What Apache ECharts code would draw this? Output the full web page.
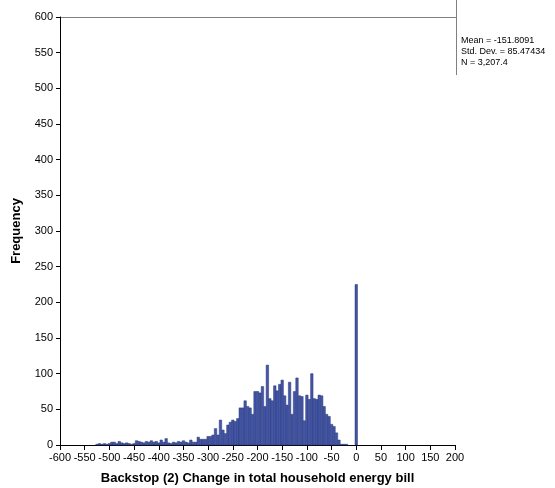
<!DOCTYPE html>
<html>
<head>
<meta charset="UTF-8">
<title>Histogram</title>
<script src="https://cdn.jsdelivr.net/npm/echarts@6/dist/echarts.min.js"></script>
<style>
  html, body { margin: 0; padding: 0; background: #fff; }
  #main { width: 555px; height: 488px; }
</style>
</head>
<body>
<div id="main"></div>
<script>
// bin centres (width 5) and frequencies
var binWidth = 5;
var binCenters = [
  -525, -520, -515, -510, -505, -500, -495, -490, -485, -480, -475, -470,
  -465, -460, -455, -450, -445, -440, -435, -430, -425, -420, -415, -410,
  -405, -400, -395, -390, -385, -380, -375, -370, -365, -360, -355, -350,
  -345, -340, -335, -330, -325, -320, -315, -310, -305, -300, -295, -290,
  -285, -280, -275, -270, -265, -260, -255, -250, -245, -240, -235, -230,
  -225, -220, -215, -210, -205, -200, -195, -190, -185, -180, -175, -170,
  -165, -160, -155, -150, -145, -140, -135, -130, -125, -120, -115, -110,
  -105, -100, -95, -90, -85, -80, -75, -70, -65, -60, -55, -50,
  -45, -40, -35, -30, -25, -20, -15, -10, -5, 0
];
var counts = [
  1, 2, 1, 2, 1, 2, 4, 4, 2, 5, 3, 2,
  3, 2, 1, 2, 6, 5, 4, 3, 5, 4, 6, 4,
  5, 3, 7, 4, 9, 3, 2, 4, 3, 5, 4, 6,
  4, 3, 7, 4, 4, 11, 8, 8, 8, 12, 12, 14,
  23, 14, 35, 21, 16, 28, 32, 35, 33, 37, 52, 52,
  62, 54, 52, 43, 75, 75, 73, 82, 54, 112, 65, 62,
  83, 76, 85, 91, 69, 56, 88, 43, 75, 94, 69, 68,
  34, 70, 64, 100, 65, 64, 70, 69, 54, 43, 40, 29,
  26, 17, 7, 1, 1, 1, 0, 0, 0, 225
];
var statLines = ['Mean = -151.8091', 'Std. Dev. = 85.47434', 'N = 3,207.4'];

var chart = echarts.init(document.getElementById('main'));
var font = '"Liberation Sans", Arial, sans-serif';

var data = [];
for (var i = 0; i < binCenters.length; i++) {
  data.push([binCenters[i], counts[i]]);
}

var option = {
  animation: false,
  backgroundColor: '#ffffff',
  grid: { left: 60, right: 100, top: 17, bottom: 43, outerBoundsMode: 'none' },
  xAxis: {
    type: 'value',
    min: -600, max: 200, interval: 50,
    name: 'Backstop (2) Change in total household energy bill',
    nameLocation: 'middle',
    nameGap: 27,
    nameTextStyle: { fontFamily: font, fontSize: 13, fontWeight: 'bold', color: '#000' },
    axisLine: { onZero: false, lineStyle: { color: '#000', width: 1 } },
    axisTick: { show: true, length: 5, lineStyle: { color: '#000' } },
    axisLabel: { fontFamily: font, fontSize: 11, color: '#000', margin: 7 },
    splitLine: { show: false }
  },
  yAxis: {
    type: 'value',
    min: 0, max: 600, interval: 50,
    name: 'Frequency',
    nameLocation: 'middle',
    nameGap: 37,
    nameTextStyle: { fontFamily: font, fontSize: 13, fontWeight: 'bold', color: '#000' },
    axisLine: { show: true, onZero: false, lineStyle: { color: '#000', width: 1 } },
    axisTick: { show: true, length: 4, lineStyle: { color: '#000' } },
    axisLabel: { fontFamily: font, fontSize: 11, color: '#000', margin: 7 },
    splitLine: { show: false }
  },
  series: [{
    type: 'custom',
    data: data,
    renderItem: function (params, api) {
      var c = api.value(0), v = api.value(1);
      if (!v) return null;
      var p0 = api.coord([c - binWidth / 2, v]);
      var p1 = api.coord([c + binWidth / 2, 0]);
      return {
        type: 'rect',
        shape: { x: p0[0], y: p0[1], width: p1[0] - p0[0], height: p1[1] - p0[1] },
        style: { fill: '#4356a6', stroke: '#2b3878', lineWidth: 0.5 }
      };
    }
  }],
  graphic: [
    { type: 'line', shape: { x1: 60, y1: 17.5, x2: 456, y2: 17.5 }, style: { stroke: '#808080', lineWidth: 1 } },
    { type: 'line', shape: { x1: 456.5, y1: 0, x2: 456.5, y2: 75 }, style: { stroke: '#808080', lineWidth: 1 } },
    {
      type: 'text', left: 461, top: 35,
      style: { text: statLines.join('\n'), fontFamily: font, fontSize: 9, lineHeight: 11, fill: '#000' }
    }
  ]
};
chart.setOption(option);
</script>
</body>
</html>
